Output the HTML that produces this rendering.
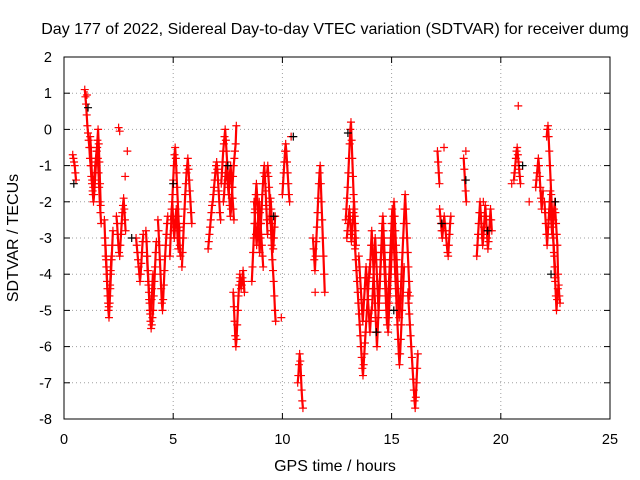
<!DOCTYPE html>
<html><head><meta charset="utf-8"><style>
body{margin:0;background:#fff}
svg{display:block;font-family:"Liberation Sans",sans-serif}
</style></head><body>
<svg id="chart" width="640" height="480" viewBox="0 0 640 480">
<rect width="640" height="480" fill="#fff"/>
<text x="335" y="34" text-anchor="middle" font-size="16">Day 177 of 2022, Sidereal Day-to-day VTEC variation (SDTVAR) for receiver dumg</text>
<g id="grid"></g>
<g id="axes"></g>
<g id="marks"></g>
<rect x="64" y="57" width="546" height="362" fill="none" stroke="#000" stroke-width="1"/>
<text transform="translate(18,238) rotate(-90)" text-anchor="middle" font-size="16">SDTVAR / TECUs</text>
<text x="335" y="471" text-anchor="middle" font-size="16">GPS time / hours</text>
</svg>
<script>
const xTicks=[0,5,10,15,20,25];
const yTicks=[2,1,0,-1,-2,-3,-4,-5,-6,-7,-8];
const trackStarts=[0.4,0.95,1.2,1.85,1.9,2.4,3.3,3.75,3.8,4.3,4.85,4.9,5.4,6.6,7.2,7.3,7.75,8.05,8.6,8.7,9.3,9.4,10.0,10.7,11.4,12.9,12.95,13.3,13.5,14.0,14.1,15.75,17.1,17.2,18.3,18.9,20.6,21.6,22.0,22.1,22.2];
const trackStep=0.03;
const trackValues=[
[-0.7,-0.8,-0.9,-1.0,-1.2,-1.4],
[1.1,0.9,0.7,0.4,0.1,-0.1,-0.3,-0.5,-0.8,-1.0,-1.3,-1.5,-1.7,-1.6,-1.4,-1.2,-1.0,-0.8,-0.6,-0.5,-0.8,-1.2,-1.6,-2.0,-2.3,-2.6],
[-0.2,-0.5,-1.0,-1.4,-1.8,-2.0,-1.8,-1.5,-1.2,-0.9,-0.6,-0.3,0.0,-0.4,-0.9,-1.5,-2.1],
[-2.5,-3.0,-3.5,-3.8,-4.2,-4.6,-5.0,-5.2,-4.8,-4.4,-4.0,-3.6,-3.2,-2.8],
[-3.2,-3.6,-4.0,-4.4,-4.8,-4.9,-4.6,-4.3,-3.9,-3.5],
[-2.4,-2.6,-2.9,-3.2,-3.4,-3.5,-3.2,-2.9,-2.6,-2.3,-2.1,-1.9,-2.2,-2.5,-2.8],
[-3.0,-3.2,-3.4,-3.6,-3.8,-4.0,-4.2,-4.0,-3.7,-3.4,-3.1,-2.9],
[-2.8,-3.1,-3.5,-3.9,-4.3,-4.7,-5.0,-5.3,-5.5,-5.4,-5.2,-5.0,-4.6,-4.2,-3.8,-3.4,-3.1],
[-3.5,-3.9,-4.2,-4.5,-4.8,-5.1,-5.0,-4.7,-4.4,-4.0],
[-2.5,-2.8,-3.2,-3.6,-4.0,-4.4,-4.8,-5.0,-4.7,-4.3,-3.9,-3.5,-3.2,-2.9,-2.6,-2.4],
[-3.5,-3.0,-2.6,-2.2,-1.8,-1.4,-1.0,-0.7,-0.5,-0.8,-1.2,-1.6,-2.0,-2.4,-2.8,-3.2,-3.5],
[-2.5,-2.2,-2.0,-2.4,-2.8,-3.0,-2.7,-2.4,-2.2,-2.6,-3.0,-3.3,-3.0,-2.7],
[-3.8,-3.4,-3.0,-2.6,-2.2,-1.8,-1.5,-1.2,-1.0,-0.8,-1.1,-1.4,-1.7,-2.0,-2.3,-2.6],
[-3.3,-3.1,-2.9,-2.7,-2.5,-2.3,-2.1,-2.0,-1.8,-1.6,-1.4,-1.2,-1.0,-0.9,-1.1,-1.4,-1.7,-2.0,-2.3,-2.5],
[-1.5,-1.2,-0.9,-0.6,-0.4,-0.2,0.0,-0.3,-0.6,-0.9,-1.2,-1.5,-1.8,-2.1,-2.4,-2.2,-1.9,-1.6,-1.3,-1.0,-0.8,-0.6,-0.4,0.1],
[-2.0,-1.8,-1.5,-1.3,-1.0,-1.2,-1.4,-1.6,-1.8,-1.5,-1.2,-1.0,-1.3,-1.6,-1.9,-2.2,-2.5],
[-4.5,-4.9,-5.3,-5.7,-6.0,-5.8,-5.4,-5.0,-4.6,-4.3,-4.1],
[-4.0,-4.2,-4.4,-4.3,-4.1,-3.9,-4.2,-4.5],
[-4.2,-3.8,-3.4,-3.0,-2.6,-2.2,-1.8,-1.5,-1.8,-2.2,-2.6,-3.0,-3.4,-3.0,-2.6,-2.2,-1.8,-1.5,-1.2,-1.0,-1.3,-1.7,-2.1,-2.5,-2.9],
[-2.0,-2.3,-2.6,-2.9,-3.2,-2.9,-2.6,-2.3,-2.0,-2.3,-2.6,-2.9,-3.2,-3.5,-3.8],
[-1.2,-1.0,-1.3,-1.6,-2.0,-2.4,-2.8,-3.2,-3.6,-3.9,-4.2,-4.6,-5.0,-5.3],
[-2.5,-2.2,-1.9,-2.2,-2.6,-3.0,-3.3,-3.0,-2.7,-2.4],
[-1.8,-1.5,-1.2,-0.9,-0.6,-0.4,-0.6,-0.9,-1.2,-1.5,-1.8,-2.0],
[-7.0,-6.8,-6.5,-6.2,-6.4,-6.8,-7.2,-7.5,-7.7],
[-3.0,-3.3,-3.6,-3.9,-3.5,-3.1,-2.7,-2.3,-1.9,-1.5,-1.2,-1.0,-1.5,-2.0,-2.5,-3.0,-3.5,-4.0,-4.5],
[-2.5,-2.2,-1.9,-1.6,-1.2,-0.8,-0.4,0.0,0.2,-0.3,-0.8,-1.3,-1.8,-2.2,-2.6,-3.0],
[-3.0,-2.8,-2.6,-2.4,-2.2,-2.5,-2.8,-3.1,-2.9,-2.6,-2.3,-2.0,-2.4,-2.8,-3.2],
[-3.0,-3.3,-3.6,-3.9,-4.2,-4.5,-4.8,-5.1,-5.4,-5.7,-6.0,-6.3,-6.6,-6.8,-6.5,-6.2,-5.9,-5.6,-5.3,-5.0,-4.7,-4.4,-4.1,-3.8],
[-3.5,-3.8,-4.1,-4.4,-4.7,-5.0,-5.3,-5.0,-4.7,-4.4,-4.1,-3.8,-4.1,-4.4,-4.7,-5.0,-5.3,-5.6,-5.3,-5.0],
[-4.0,-3.6,-3.2,-2.8,-3.2,-3.6,-4.0,-4.4,-4.8,-5.2,-5.6,-6.0,-5.6,-5.2,-4.8,-4.4,-4.0,-3.6,-3.2,-2.8,-2.4,-2.8,-3.2,-3.6,-4.0,-4.4,-4.8,-5.2,-5.6,-5.2,-4.8,-4.4,-4.0,-3.6,-3.2,-2.8,-2.4,-2.0,-2.4,-2.8,-3.2,-3.6,-4.0,-4.4,-4.8,-5.2,-5.0,-4.6,-4.2,-3.8,-3.4,-3.0,-2.6,-2.2,-1.8,-2.2,-2.6,-3.0,-3.4,-3.8,-4.2,-4.6],
[-5.0,-4.6,-4.2,-3.8,-3.4,-3.0,-3.4,-3.8,-4.2,-4.6,-5.0,-4.6,-4.2,-3.8,-3.4,-3.0,-2.6,-3.0,-3.4,-3.8,-4.2,-4.6,-5.0,-5.4,-5.0,-4.6,-4.2,-3.8,-3.4,-3.0,-2.6,-2.2,-2.6,-3.0,-3.4,-3.8,-4.2,-4.6,-5.0,-5.4,-5.8,-6.2,-6.5,-6.2,-5.8,-5.4,-5.0,-4.6,-4.2,-3.8],
[-4.5,-4.8,-5.1,-5.4,-5.7,-6.0,-6.3,-6.6,-6.9,-7.2,-7.5,-7.7,-7.4,-7.0,-6.6,-6.2],
[-0.6,-0.9,-1.2,-1.5],
[-2.2,-2.4,-2.6,-2.8,-3.0,-2.8,-2.6,-2.4,-2.6,-2.8,-3.0,-3.2,-3.4,-3.5,-3.2,-2.9,-2.6,-2.4],
[-0.8,-1.1,-1.4,-1.7,-2.0],
[-3.5,-3.2,-2.9,-2.6,-2.3,-2.0,-2.3,-2.6,-2.9,-3.2,-3.0,-2.7,-2.4,-2.1,-2.4,-2.7,-3.0,-3.3,-3.1,-2.8,-2.5,-2.2,-2.5,-2.8],
[-1.4,-1.2,-1.0,-0.8,-0.6,-0.5,-0.7,-0.9,-1.1,-1.3,-1.5],
[-1.6,-1.4,-1.2,-1.0,-0.8,-1.0,-1.3,-1.6,-1.9,-2.2,-2.0,-1.7],
[-2.0,-2.3,-2.6,-2.9,-3.2,-2.9,-2.6,-2.3,-2.0,-1.7,-2.0,-2.3,-2.6,-2.9,-3.2,-3.5,-3.8,-4.1],
[-0.2,0.0,0.1,-0.2,-0.6,-1.0,-1.4,-1.8,-2.2,-2.6,-3.0,-3.4,-3.8,-4.2,-4.6,-5.0,-4.7,-4.4],
[-2.5,-2.2,-2.0,-2.3,-2.6,-2.9,-2.7,-2.5,-2.2,-2.0,-2.3,-2.6,-2.9,-3.2,-4.0,-4.3,-4.6,-4.8]
];
const sparseTimes=[2.5,2.55,2.8,2.9,9.95,10.4,11.5,17.4,18.4,19.2,20.5,20.8,21.3,1.05];
const sparseValues=[0.05,-0.05,-1.3,-0.6,-5.2,-0.2,-4.5,-0.5,-0.6,-2.0,-1.5,0.65,-2.0,0.95];
const blackTimes=[0.45,1.1,3.1,5.0,7.5,9.6,10.5,13.0,14.3,15.1,17.3,18.4,19.4,21.0,22.3,22.5];
const blackValues=[-1.5,0.6,-3.0,-1.5,-1.0,-2.4,-0.2,-0.1,-5.6,-5.0,-2.6,-1.4,-2.8,-1.0,-4.0,-2.0];

const X0=64,X1=610,Y0=419,Y1=57,xMin=0,xMax=25,yMin=-8,yMax=2;
const xs=v=>X0+(v-xMin)/(xMax-xMin)*(X1-X0);
const ys=v=>Y0-(v-yMin)/(yMax-yMin)*(Y0-Y1);
const NS='http://www.w3.org/2000/svg';
const grid=document.getElementById('grid'),axes=document.getElementById('axes'),marks=document.getElementById('marks');
function mk(tag,attrs,parent){const e=document.createElementNS(NS,tag);for(const k in attrs)e.setAttribute(k,attrs[k]);parent.appendChild(e);return e;}
xTicks.forEach(t=>{
  const x=xs(t);
  if(t>xMin&&t<xMax){const g=mk('line',{x1:x,x2:x,y1:Y1,y2:Y0,stroke:'#a0a0a0','stroke-dasharray':'1,3'},grid);
  
  }
  const a=mk('line',{x1:x,x2:x,y1:Y0,y2:Y0-6,stroke:'#000'},axes);
  
  
  const b=mk('line',{x1:x,x2:x,y1:Y1,y2:Y1+6,stroke:'#000'},axes);
  
  
  const l=mk('text',{x:x,y:444,'text-anchor':'middle','font-size':'14.5'},axes);l.textContent=t;
  
  
});
yTicks.forEach(t=>{
  const y=ys(t);
  if(t>yMin&&t<yMax){const g=mk('line',{x1:X0,x2:X1,y1:y,y2:y,stroke:'#a0a0a0','stroke-dasharray':'1,3'},grid);
  
  }
  const a=mk('line',{x1:X0,x2:X0+6,y1:y,y2:y,stroke:'#000'},axes);
  
  
  const b=mk('line',{x1:X1,x2:X1-6,y1:y,y2:y,stroke:'#000'},axes);
  
  
  const l=mk('text',{x:52,y:y+5,'text-anchor':'end','font-size':'14.5'},axes);l.textContent=t;
  
  
});
function plus(t,v,color){
  const x=xs(t),y=ys(v);
  const p=mk('path',{d:`M${x-4},${y}H${x+4}M${x},${y-4}V${y+4}`,stroke:color,'stroke-width':'1.2',fill:'none'},marks);
  
  
}
trackValues.forEach((vals,k)=>{
  const pts=vals.map((v,i)=>xs(trackStarts[k]+i*trackStep)+','+ys(v)).join(' ');
  const pl=mk('polyline',{points:pts,fill:'none',stroke:'#f00','stroke-width':'2.2','stroke-linejoin':'round'},marks);
  
  
});
trackValues.forEach((vals,k)=>vals.forEach((v,i)=>plus(trackStarts[k]+i*trackStep,v,'#f00')));
sparseTimes.forEach((t,i)=>plus(t,sparseValues[i],'#f00'));
blackTimes.forEach((t,i)=>plus(t,blackValues[i],'#000'));
</script>
</body></html>
